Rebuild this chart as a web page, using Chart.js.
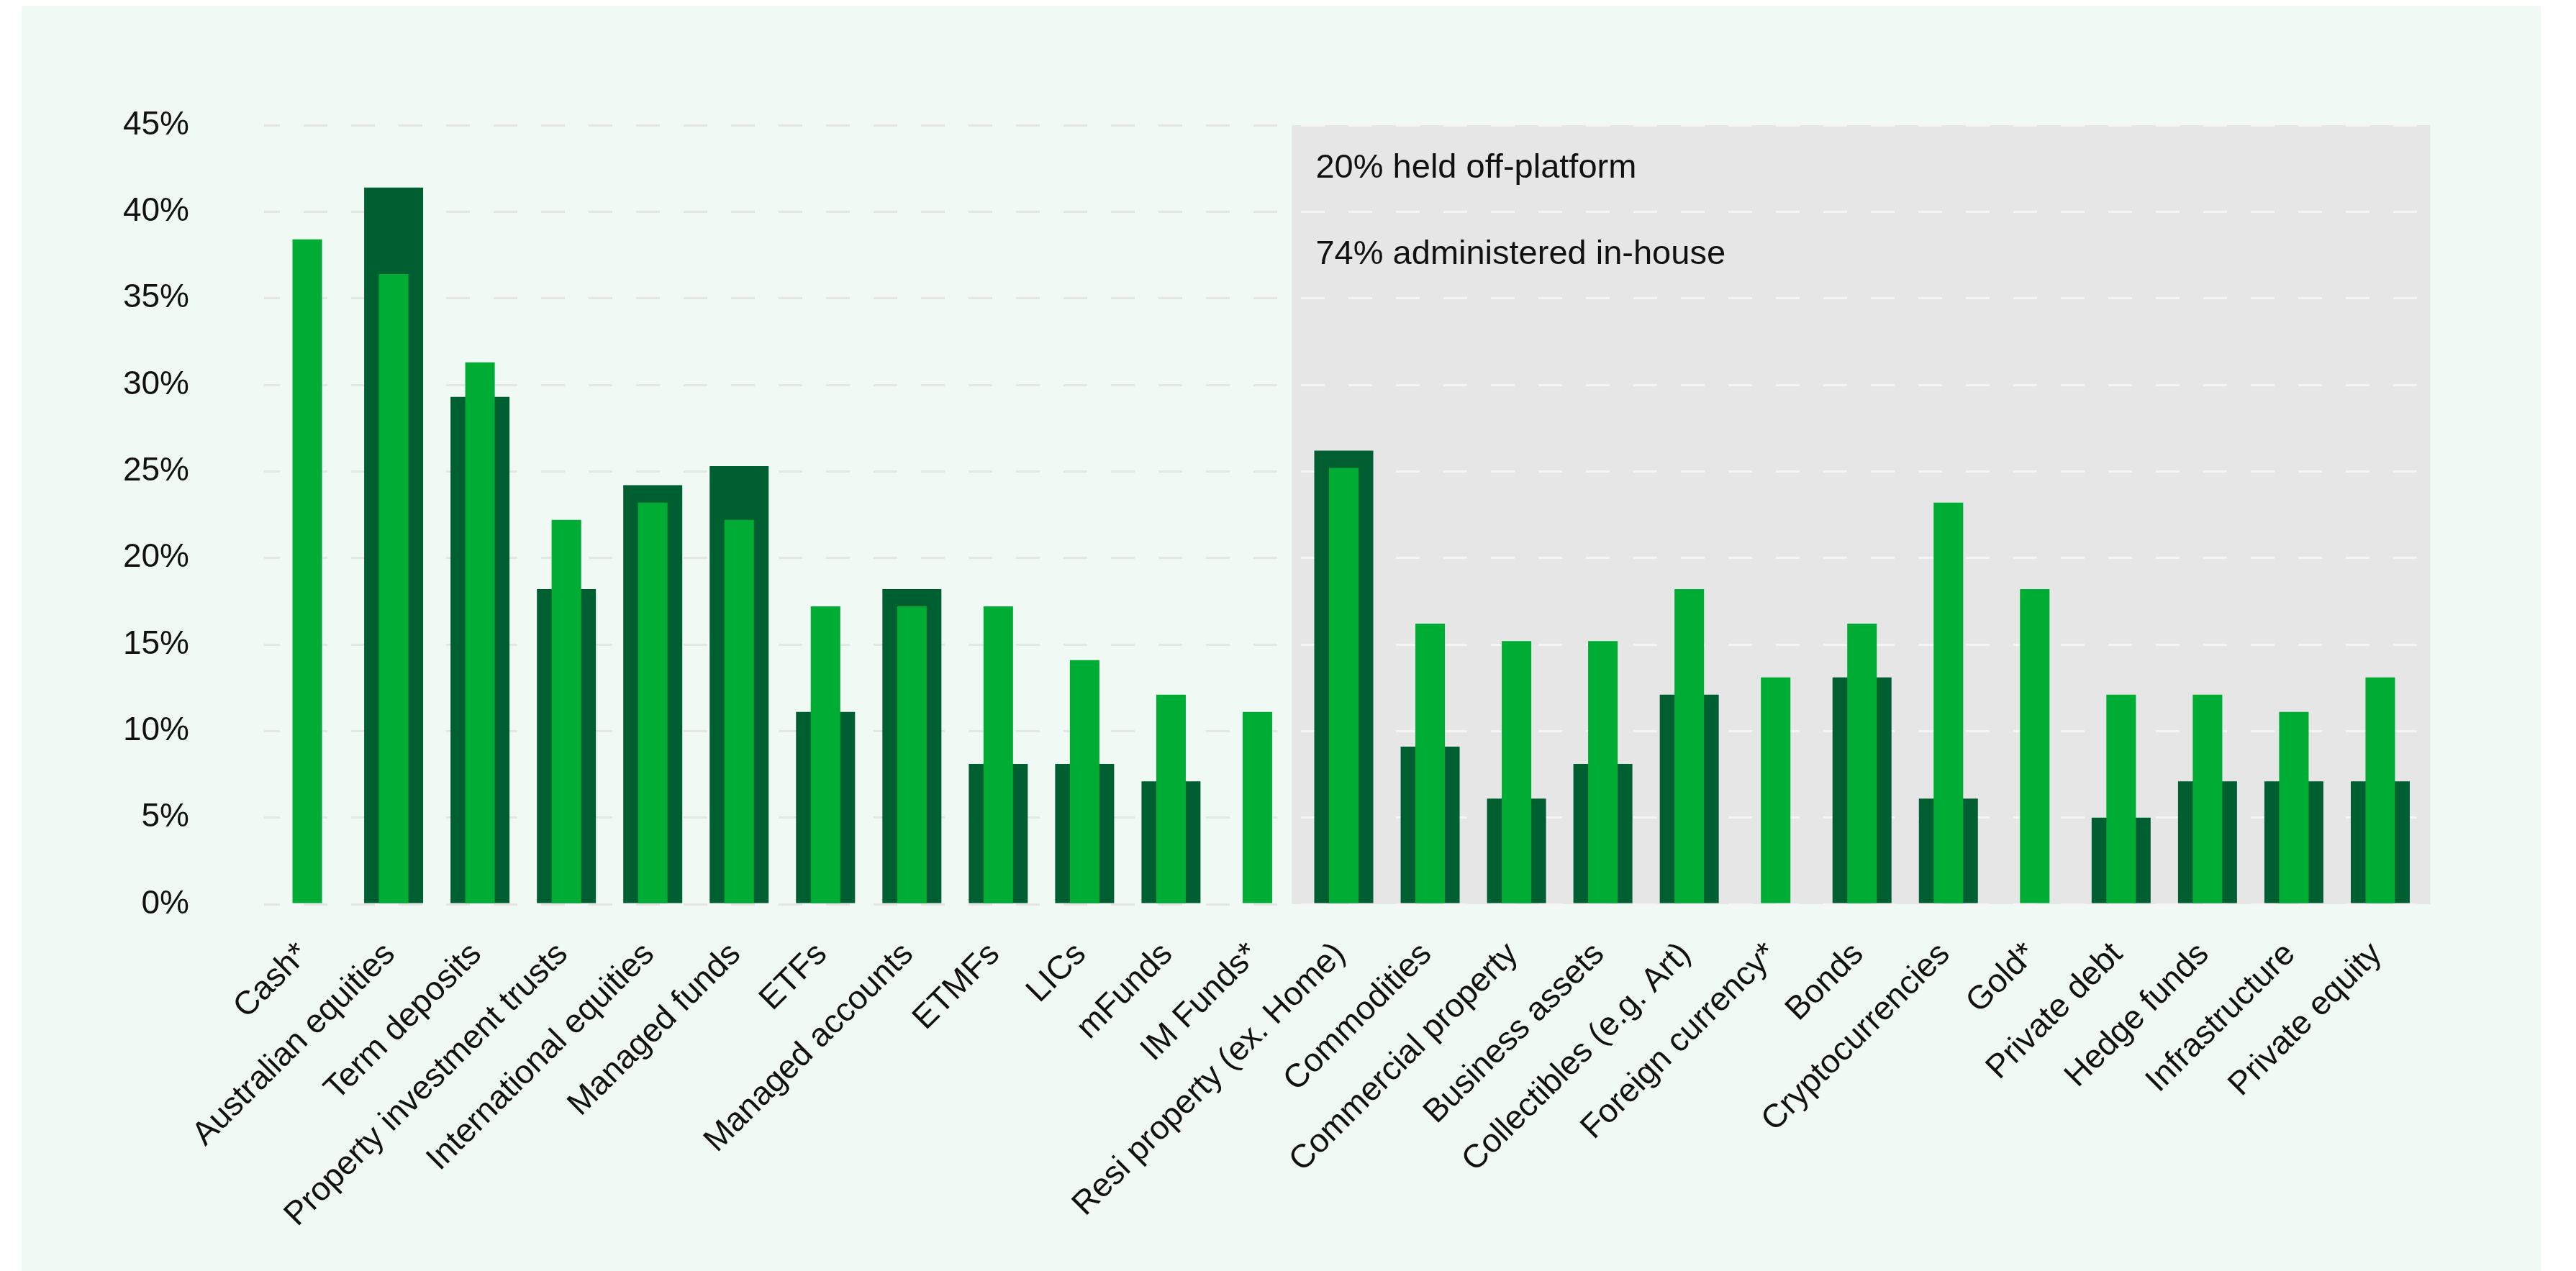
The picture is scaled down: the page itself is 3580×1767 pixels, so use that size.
<!DOCTYPE html>
<html>
<head>
<meta charset="utf-8">
<script src="https://cdn.jsdelivr.net/npm/chart.js@4.4.1/dist/chart.umd.min.js"></script>
<style>
	html, body { margin: 0; padding: 0; background: #ffffff; }
	#panel { position: absolute; left: 30px; top: 8px; width: 3501px; height: 1759px; background: #f1f9f4; }
	#chart { position: absolute; left: 0; top: 0; }
</style>
</head>
<body>
<div id="panel"></div>
<canvas id="chart" width="3580" height="1767"></canvas>
<script>
// categories on the x axis
var categories = ['Cash*', 'Australian equities', 'Term deposits', 'Property investment trusts',
	'International equities', 'Managed funds', 'ETFs', 'Managed accounts', 'ETMFs', 'LICs',
	'mFunds', 'IM Funds*', 'Resi property (ex. Home)', 'Commodities', 'Commercial property',
	'Business assets', 'Collectibles (e.g. Art)', 'Foreign currency*', 'Bonds', 'Cryptocurrencies',
	'Gold*', 'Private debt', 'Hedge funds', 'Infrastructure', 'Private equity'];

// wide dark bars
var darkValues = [null, 41.4, 29.3, 18.2, 24.2, 25.3, 11.1, 18.2, 8.1, 8.1, 7.1, null, 26.2, 9.1, 6.1, 8.1, 12.1, null, 13.1, 6.1, null, 5.0, 7.1, 7.1, 7.1];

// narrow light bars
var lightValues = [38.4, 36.4, 31.3, 22.2, 23.2, 22.2, 17.2, 17.2, 17.2, 14.1, 12.1, 11.1, 25.2, 16.2, 15.2, 15.2, 18.2, 13.1, 16.2, 23.2, 18.2, 12.1, 12.1, 11.1, 13.1];

var yTicks = [0, 5, 10, 15, 20, 25, 30, 35, 40, 45];

var notes = ['20% held off-platform', '74% administered in-house'];

// grey box spans these category positions
var shadeFrom = 11.4;
var shadeTo = 24.58;

var FONT = '"Liberation Sans", Arial, sans-serif';

function gridColor(context) {
	var chart = context.chart;
	var area = chart.chartArea;
	if (!area || !chart.scales.x) return '#e4e6e4';
	var split = chart.scales.x.getPixelForValue(shadeFrom);
	var t = (split - area.left) / (area.right - area.left);
	t = Math.max(0, Math.min(1, t));
	var g = chart.ctx.createLinearGradient(area.left, 0, area.right, 0);
	g.addColorStop(0, '#e4e6e4');
	g.addColorStop(t, '#e4e6e4');
	g.addColorStop(t, '#f5f5f5');
	g.addColorStop(1, '#f5f5f5');
	return g;
}

var shadePlugin = {
	id: 'shade',
	beforeDraw: function(chart) {
		var c = chart.ctx;
		var x = chart.scales.x, y = chart.scales.y;
		var left = x.getPixelForValue(shadeFrom);
		var right = x.getPixelForValue(shadeTo);
		var top = y.getPixelForValue(yTicks[yTicks.length - 1]);
		var bottom = y.getPixelForValue(0);
		c.save();
		c.fillStyle = '#e6e6e6';
		c.fillRect(left, top, right - left, bottom - top);
		c.fillStyle = '#111111';
		c.font = '47px ' + FONT;
		c.textBaseline = 'middle';
		c.textAlign = 'left';
		for (var i = 0; i < notes.length; i++) {
			c.fillText(notes[i], left + 33, y.getPixelForValue(42.5 - i * 5));
		}
		c.restore();
	}
};

window.onload = function() {
	var ctx = document.getElementById('chart').getContext('2d');
	var chart = new Chart(ctx, {
		type: 'bar',
		data: {
			labels: categories,
			datasets: [{
				label: 'light',
				data: lightValues,
				backgroundColor: '#00ad34',
				barPercentage: 0.342,
				categoryPercentage: 1,
				grouped: false,
				order: 0
			}, {
				label: 'dark',
				data: darkValues,
				backgroundColor: '#005f30',
				barPercentage: 0.683,
				categoryPercentage: 1,
				grouped: false,
				order: 1
			}]
		},
		options: {
			responsive: false,
			animation: false,
			devicePixelRatio: 1,
			layout: {
				padding: { top: 174, right: 212, left: 0, bottom: 0 }
			},
			plugins: {
				legend: { display: false },
				tooltip: { enabled: false }
			},
			scales: {
				x: {
					grid: { display: false },
					border: { display: false },
					ticks: {
						color: '#111111',
						font: { family: FONT, size: 46 },
						minRotation: 45,
						maxRotation: 45,
						padding: 35,
						labelOffset: -5,
						autoSkip: false
					},
					afterFit: function(scale) { scale.height = 510; }
				},
				y: {
					min: 0,
					max: 45,
					grid: {
						color: gridColor,
						lineWidth: 3,
						drawTicks: false
					},
					border: { display: false, dash: [33, 33], dashOffset: 11 },
					afterBuildTicks: function(scale) {
						scale.ticks = yTicks.map(function(v) { return { value: v }; });
					},
					ticks: {
						color: '#111111',
						font: { family: FONT, size: 46 },
						padding: 104,
						callback: function(v) { return v + '%'; }
					},
					afterFit: function(scale) { scale.width = 367; }
				}
			}
		},
		plugins: [shadePlugin]
	});
};
</script>
</body>
</html>
